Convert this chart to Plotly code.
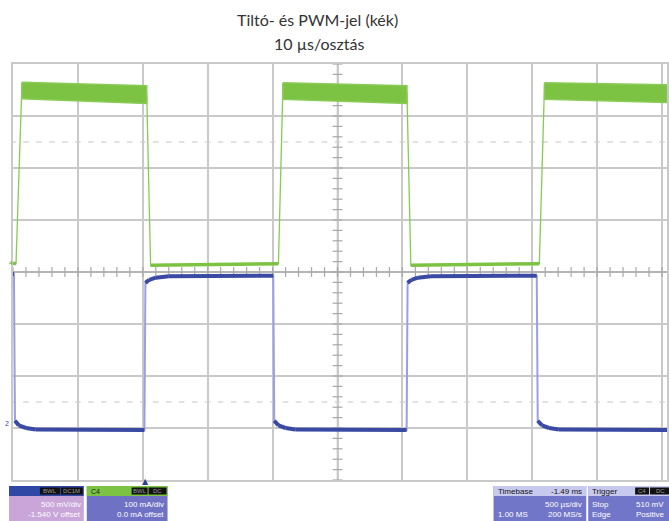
import numpy as np
import plotly.graph_objects as go

# ---- waveform data (time in µs, amplitude in screen divisions) ----
# Channel 2 (blue, PWM): polyline through the edges and settling shoulders
blue_t = [0.0, 0.15, 0.3, 0.9, 2.0, 3.5, 20.25,
          20.4, 21.0, 22.0, 24.0, 40.1,
          40.25, 40.9, 42.0, 43.5, 60.65,
          60.8, 61.4, 62.4, 64.4, 80.7,
          80.85, 81.5, 82.6, 84.1, 100.8]
blue_v = [-0.04, -0.04, -2.86, -2.95, -3.0, -3.03, -3.04,
          -0.21, -0.15, -0.11, -0.08, -0.07,
          -2.86, -2.95, -3.0, -3.03, -3.04,
          -0.21, -0.15, -0.11, -0.08, -0.07,
          -2.86, -2.95, -3.0, -3.03, -3.04]

# Channel 4 (green, enable): thin trace through its edges and low levels
green_t = [0.0, 0.46, 1.38, 20.6, 21.2, 40.9, 41.6, 60.7, 61.3, 81.1, 81.9, 100.8]
green_v = [0.17, 0.16, 3.62, 3.45, 0.13, 0.16, 3.62, 3.45, 0.13, 0.16, 3.62, 3.5]

# High-level noise band of channel 4 (start/end time, top and bottom envelope)
band_start = [1.38, 41.6, 81.9]
band_end = [20.6, 60.7, 100.8]
band_top_start = [3.65, 3.64, 3.64]
band_top_end = [3.58, 3.58, 3.6]
band_bot_start = [3.33, 3.32, 3.32]
band_bot_end = [3.24, 3.24, 3.26]

# Screen geometry
X_DIVS = 10
Y_DIVS = 8
US_PER_DIV = 10
X_MAX = 100.77

W, H = 669, 521
ML, MR, MT, MB = 13, 0, 64, 41
PW, PH = W - ML - MR, H - MT - MB


def px(x):
    return (x - ML) / PW


def py(y):
    return (H - MB - y) / PH


GRID = "#c9c9c9"
BLUE = "#3a4aa4"
BLUE_EDGE = "#9a9ee6"
GREEN = "#7cc243"
GREEN_EDGE = "#86cb52"

fig = go.Figure()

# graticule tick marks on the centre axes and the dotted level lines
tx = np.arange(0, X_DIVS * US_PER_DIV + 0.01, US_PER_DIV / 5)
ty = np.arange(-Y_DIVS / 2, Y_DIVS / 2 + 0.01, 0.2)
fig.add_trace(go.Scatter(x=tx, y=[0] * len(tx), mode="markers", hoverinfo="skip",
                         marker=dict(symbol="line-ns", size=7,
                                     line=dict(width=1.2, color="#a8a8a8"))))
fig.add_trace(go.Scatter(x=[50] * len(ty), y=ty, mode="markers", hoverinfo="skip",
                         marker=dict(symbol="line-ew", size=7,
                                     line=dict(width=1.2, color="#a8a8a8"))))
for lvl in (2.5, -2.5):
    fig.add_trace(go.Scatter(x=tx, y=[lvl] * len(tx), mode="markers", hoverinfo="skip",
                             marker=dict(symbol="line-ew", size=4,
                                         line=dict(width=1.2, color="#cfcfcf"))))

# green: thin trace with edges
fig.add_trace(go.Scatter(x=green_t, y=green_v, mode="lines", hoverinfo="skip",
                         line=dict(color=GREEN_EDGE, width=1.3)))

# green: thicker low-level segments (pairs that stay low)
gl_x, gl_y = [], []
for i in range(len(green_t) - 1):
    if green_v[i] < 1 and green_v[i + 1] < 1:
        gl_x += [green_t[i], green_t[i + 1], None]
        gl_y += [green_v[i], green_v[i + 1], None]
fig.add_trace(go.Scatter(x=gl_x, y=gl_y, mode="lines", hoverinfo="skip",
                         line=dict(color=GREEN, width=3.5)))

# green: noisy high-level band
for s, e, ts, te, bs, be in zip(band_start, band_end, band_top_start,
                                band_top_end, band_bot_start, band_bot_end):
    fig.add_trace(go.Scatter(x=[s, e, e, s, s], y=[ts, te, be, bs, ts],
                             mode="lines", fill="toself", fillcolor=GREEN,
                             hoverinfo="skip",
                             line=dict(color="#8acb55", width=1.5)))

# blue: edges in a light tone, levels drawn heavy on top
fig.add_trace(go.Scatter(x=blue_t, y=blue_v, mode="lines", hoverinfo="skip",
                         line=dict(color=BLUE_EDGE, width=2)))
bl_x, bl_y = [], []
for i in range(len(blue_t) - 1):
    if abs(blue_v[i + 1] - blue_v[i]) < 1:
        bl_x += [blue_t[i], blue_t[i + 1], None]
        bl_y += [blue_v[i], blue_v[i + 1], None]
fig.add_trace(go.Scatter(x=bl_x, y=bl_y, mode="lines", hoverinfo="skip",
                         line=dict(color=BLUE, width=4)))

shapes = []
# centre vertical line
shapes.append(dict(type="line", xref="x", yref="paper", x0=50, x1=50, y0=0, y1=1,
                   line=dict(color="#b4b4b4", width=1.5), layer="below"))

# ---- status boxes under the screen ----
def rect(x0, y0, x1, y1, color):
    shapes.append(dict(type="rect", xref="paper", yref="paper",
                       x0=px(x0), x1=px(x1), y0=py(y1), y1=py(y0),
                       fillcolor=color, line=dict(width=0), layer="above"))


annotations = []


def label(x, y, text, color="white", size=8, anchor="left", family="Liberation Sans"):
    annotations.append(dict(xref="paper", yref="paper", x=px(x), y=py(y),
                            text=text, showarrow=False, xanchor=anchor,
                            yanchor="middle",
                            font=dict(family=family, size=size, color=color)))


HEAD_Y0, HEAD_Y1, BODY_Y1 = 486, 496, 521
ROW1, ROW2 = 504, 514

# C2 box
rect(9, HEAD_Y0, 84, BODY_Y1, "#c9a5da")
rect(9, HEAD_Y0, 84, HEAD_Y1, "#2f48a6")
rect(40, HEAD_Y0 + 1.5, 60, HEAD_Y1 - 1.5, "#111")
rect(61, HEAD_Y0 + 1.5, 83, HEAD_Y1 - 1.5, "#111")
label(50, 491, "BWL", color="#9a9a9a", size=6, anchor="center")
label(72, 491, "DC1M", color="#9a9a9a", size=6, anchor="center")
label(83, ROW1, "500 mV/div", anchor="right")
label(83, ROW2, "-1.540 V offset", anchor="right")

# C4 box
rect(87, HEAD_Y0, 168, BODY_Y1, "#6f72c4")
rect(87, HEAD_Y0, 168, HEAD_Y1, "#7cc243")
rect(132, HEAD_Y0 + 1.5, 148, HEAD_Y1 - 1.5, "#111")
rect(149, HEAD_Y0 + 1.5, 167, HEAD_Y1 - 1.5, "#111")
label(89, 491, "C4", color="#1a1a1a", size=7)
label(140, 491, "BWL", color="#9a9a9a", size=6, anchor="center")
label(158, 491, "DC", color="#9a9a9a", size=6, anchor="center")
label(166, ROW1, "100 mA/div", anchor="right")
label(166, ROW2, "0.0 mA offset", anchor="right")

# trigger position marker
label(146, 481, "▲", color="#2f3f8f", size=8, anchor="center", family="DejaVu Sans")

# Timebase box
rect(495, HEAD_Y0, 588, BODY_Y1, "#7276c8")
rect(495, HEAD_Y0, 588, HEAD_Y1, "#c8c9ef")
label(497, 491, "Timebase", color="#111", size=8)
label(586, 491, "-1.49 ms", color="#111", size=8, anchor="right")
label(586, ROW1, "500 µs/div", anchor="right")
label(497, ROW2, "1.00 MS")
label(586, ROW2, "200 MS/s", anchor="right")

# Trigger box
rect(590, HEAD_Y0, 672, BODY_Y1, "#7276c8")
rect(590, HEAD_Y0, 672, HEAD_Y1, "#c8c9ef")
rect(637, HEAD_Y0 + 1.5, 651, HEAD_Y1 - 1.5, "#111")
rect(652, HEAD_Y0 + 1.5, 672, HEAD_Y1 - 1.5, "#111")
label(592, 491, "Trigger", color="#111", size=8)
label(644, 491, "C4", color="#9a9a9a", size=6, anchor="center")
label(662, 491, "DC", color="#9a9a9a", size=6, anchor="center")
label(592, ROW1, "Stop")
label(636, ROW1, "510 mV")
label(592, ROW2, "Edge")
label(636, ROW2, "Positive")

# channel ground markers on the left edge
label(7, 423, "2", color=BLUE, size=7, anchor="center")
label(11, 263, "4", color="#5aa02c", size=6, anchor="center")

# title
annotations.append(dict(xref="paper", yref="paper", x=px(318), y=py(20),
                        text="Tiltó- és PWM-jel (kék)", showarrow=False,
                        xanchor="center", yanchor="middle",
                        font=dict(family="Lato", size=16, color="#333333")))
annotations.append(dict(xref="paper", yref="paper", x=px(320), y=py(43),
                        text="10 µs/osztás", showarrow=False,
                        xanchor="center", yanchor="middle",
                        font=dict(family="Lato", size=16, color="#333333")))

fig.update_layout(
    width=W, height=H,
    margin=dict(l=ML, r=MR, t=MT, b=MB, pad=0),
    paper_bgcolor="white", plot_bgcolor="white",
    showlegend=False,
    shapes=shapes, annotations=annotations,
    xaxis=dict(range=[0, X_MAX], dtick=US_PER_DIV, tick0=0, showgrid=True,
               gridcolor=GRID, gridwidth=1.5, zeroline=False,
               showticklabels=False, ticks="", showline=True,
               linecolor=GRID, linewidth=1.5, mirror=True, fixedrange=True),
    yaxis=dict(range=[-Y_DIVS / 2, Y_DIVS / 2], dtick=1, tick0=0, showgrid=True,
               gridcolor=GRID, gridwidth=1.5, zeroline=True,
               zerolinecolor="#b4b4b4", zerolinewidth=1.5,
               showticklabels=False, ticks="", showline=True,
               linecolor=GRID, linewidth=1.5, mirror=True, fixedrange=True),
)

fig.write_html("out.html")
